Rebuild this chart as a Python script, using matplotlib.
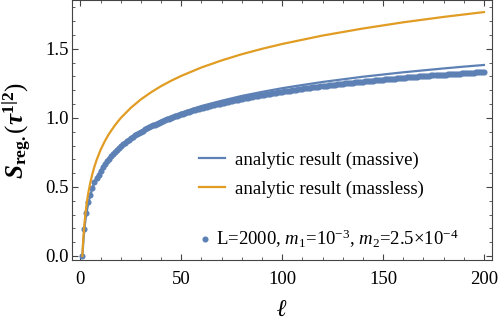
import matplotlib
matplotlib.use("Agg")
import matplotlib.pyplot as plt
from matplotlib.lines import Line2D
from matplotlib.ticker import MultipleLocator, FixedLocator
import numpy as np

plt.rcParams['font.family'] = ['Liberation Serif', 'DejaVu Serif']
plt.rcParams['mathtext.fontset'] = 'custom'
plt.rcParams['mathtext.rm'] = 'Liberation Serif'
plt.rcParams['mathtext.it'] = 'Liberation Serif:italic'
plt.rcParams['mathtext.bf'] = 'Liberation Serif:bold'
plt.rcParams['mathtext.bfit'] = 'Liberation Serif:bold:italic'

# numerical points, one per integer ell (L=2000)
ell_num = np.arange(1, 201)
s_num = [
    0.000, 0.196, 0.308, 0.388, 0.444, 0.492, 0.533, 0.565, 0.590, 0.618,
    0.643, 0.665, 0.686, 0.705, 0.723, 0.739, 0.755, 0.769, 0.783, 0.797,
    0.809, 0.821, 0.832, 0.843, 0.853, 0.863, 0.873, 0.882, 0.891, 0.899,
    0.908, 0.916, 0.924, 0.931, 0.938, 0.945, 0.952, 0.959, 0.965, 0.972,
    0.978, 0.984, 0.989, 0.995, 1.001, 1.006, 1.011, 1.016, 1.022, 1.026,
    1.031, 1.036, 1.041, 1.045, 1.049, 1.054, 1.058, 1.062, 1.067, 1.071,
    1.075, 1.078, 1.082, 1.086, 1.090, 1.093, 1.097, 1.101, 1.104, 1.107,
    1.111, 1.114, 1.117, 1.120, 1.123, 1.127, 1.130, 1.133, 1.136, 1.139,
    1.141, 1.144, 1.147, 1.150, 1.153, 1.155, 1.158, 1.161, 1.163, 1.166,
    1.168, 1.171, 1.173, 1.176, 1.178, 1.180, 1.183, 1.185, 1.187, 1.190,
    1.192, 1.194, 1.196, 1.198, 1.201, 1.202, 1.205, 1.207, 1.209, 1.211,
    1.213, 1.215, 1.217, 1.219, 1.221, 1.223, 1.224, 1.226, 1.228, 1.230,
    1.232, 1.233, 1.235, 1.237, 1.239, 1.240, 1.242, 1.244, 1.245, 1.247,
    1.249, 1.250, 1.252, 1.253, 1.255, 1.257, 1.258, 1.260, 1.261, 1.263,
    1.264, 1.266, 1.267, 1.269, 1.270, 1.271, 1.273, 1.274, 1.276, 1.277,
    1.278, 1.280, 1.281, 1.282, 1.283, 1.285, 1.286, 1.288, 1.289, 1.290,
    1.291, 1.293, 1.294, 1.295, 1.296, 1.297, 1.299, 1.300, 1.301, 1.302,
    1.303, 1.304, 1.305, 1.307, 1.308, 1.309, 1.310, 1.311, 1.312, 1.313,
    1.314, 1.315, 1.316, 1.318, 1.318, 1.320, 1.321, 1.321, 1.323, 1.324,
    1.325, 1.325, 1.327, 1.328, 1.328, 1.329, 1.330, 1.331, 1.332, 1.333,
]

# analytic massive curve
ell_massive = [1, 1.5, 2, 2.5, 3, 4, 5, 6, 7, 8, 10, 12, 14, 17, 20, 25, 30,
               35, 40, 45, 50, 60, 70, 80, 90, 100, 110, 120, 130, 140, 150,
               160, 170, 180, 190, 200]
s_massive = [0.000, 0.110, 0.196, 0.258, 0.308, 0.388, 0.444, 0.492, 0.533,
             0.565, 0.620, 0.668, 0.708, 0.759, 0.802, 0.859, 0.906, 0.946,
             0.982, 1.012, 1.038, 1.086, 1.124, 1.159, 1.188, 1.215, 1.238,
             1.260, 1.279, 1.298, 1.314, 1.330, 1.344, 1.358, 1.371, 1.383]

# analytic massless curve
ell_massless = [1, 1.1, 1.25, 1.5, 1.75, 2, 2.5, 3, 3.5, 4, 5, 6, 7, 8, 10, 12,
                14, 17, 20, 25, 30, 35, 40, 45, 50, 60, 70, 80, 90, 100, 120,
                140, 160, 180, 200]
s_massless = [0.000, 0.032, 0.074, 0.135, 0.187, 0.231, 0.305, 0.366, 0.418,
              0.462, 0.536, 0.597, 0.649, 0.693, 0.768, 0.828, 0.880, 0.944,
              0.999, 1.073, 1.134, 1.185, 1.230, 1.269, 1.304, 1.365, 1.416,
              1.461, 1.500, 1.535, 1.596, 1.647, 1.692, 1.731, 1.766]

blue = '#5E81B5'
orange = '#E19C24'
frame = '#444444'

fig = plt.figure(figsize=(5, 3.25), dpi=100)
ax = fig.add_axes([0.1446, 0.2, 0.984 - 0.1446, 0.9985 - 0.2])

ax.plot(ell_num, s_num, 'o', color=blue, markersize=4.4, markeredgewidth=0, zorder=2)
ax.plot(ell_massive, s_massive, color=blue, lw=1.6, zorder=3)
ax.plot(ell_massless, s_massless, color=orange, lw=1.6, zorder=3)

ax.set_xlim(-4, 204)
ax.set_ylim(-0.029, 1.85)
ax.xaxis.set_major_locator(FixedLocator([0, 50, 100, 150, 200]))
ax.xaxis.set_minor_locator(MultipleLocator(10))
ax.yaxis.set_major_locator(FixedLocator([0, 0.5, 1.0, 1.5]))
ax.yaxis.set_minor_locator(MultipleLocator(0.1))
ax.set_yticklabels(['0.0', '0.5', '1.0', '1.5'])

ax.tick_params(which='both', direction='in', top=True, right=True,
               color=frame, labelsize=13.5)
ax.tick_params(which='major', length=4.3, width=0.8)
ax.tick_params(which='minor', length=2.5, width=0.6)
ax.tick_params(axis='x', pad=8)
ax.tick_params(axis='y', pad=2.5)
for sp in ax.spines.values():
    sp.set_color(frame)
    sp.set_linewidth(0.8)

ax.set_xlabel('ℓ', fontsize=17, fontweight='bold', fontstyle='italic', labelpad=9)
ax.set_ylabel(r'$\mathbfit{S}_{\mathbf{reg.}}(\mathbfit{\tau}^{\mathbf{1|2}})$',
              fontsize=18, labelpad=8)

h1 = [Line2D([], [], color=blue, lw=1.6), Line2D([], [], color=orange, lw=1.6)]
leg1 = fig.legend(h1, ['analytic result (massive)', 'analytic result (massless)'],
                  loc='center left', bbox_to_anchor=(0.398, 0.4618),
                  frameon=False, fontsize=13.5, borderpad=0, borderaxespad=0,
                  handlelength=1.4, handletextpad=0.53, labelspacing=0.62)
h2 = [Line2D([], [], color=blue, marker='o', ls='', markersize=4.4, markeredgewidth=0)]
leg2 = fig.legend(h2, [r'L=2000, $m_1$=10$^{-3}$, $m_2$=2.5×10$^{-4}$'],
                  loc='center left', bbox_to_anchor=(0.402, 0.2637),
                  frameon=False, fontsize=13.5, borderpad=0, borderaxespad=0,
                  handlelength=0.45, handletextpad=0.35, numpoints=1)

fig.savefig('out.png', dpi=100)
